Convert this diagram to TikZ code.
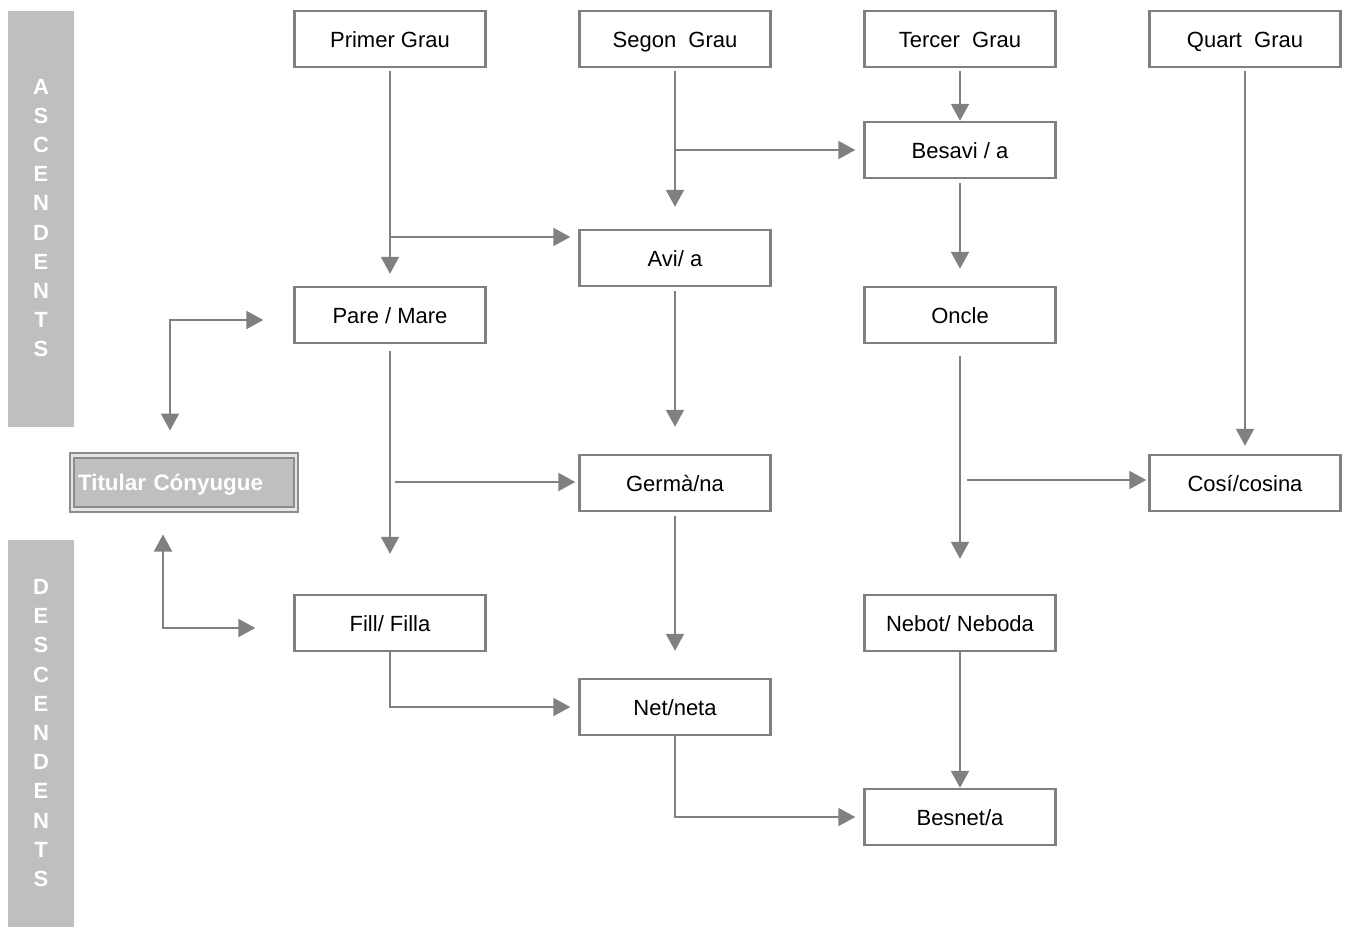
\documentclass[tikz,border=0pt]{standalone}
\usepackage{fontspec}
\setmainfont{Liberation Sans}
\usetikzlibrary{arrows.meta, positioning}

\begin{document}
\begin{tikzpicture}[x=0.5pt,y=-0.5pt,
 font=\fontsize{11}{13}\selectfont,
 grau/.style={rectangle,draw=black!50,line width=1.2pt,
   minimum width=95.5pt,minimum height=28pt,inner sep=0pt,
   text height=8pt,text depth=0pt},
 fletxa/.style={draw=black!50,line width=1pt,-{Triangle[length=8.5pt,width=9pt]}},
 doble/.style={fletxa,{Triangle[length=8.5pt,width=9pt]}-{Triangle[length=8.5pt,width=9pt]}},
 lletres/.style={text=white,font=\fontsize{11}{14.6}\selectfont\bfseries,align=center}]

  \useasboundingbox (0,0) rectangle (1345,927);

  % barres laterals
  \fill[black!25] (8,11) rectangle (74,427);
  \fill[black!25] (8,540) rectangle (74,927);
  \node[lletres] (asc) at (41,218) {A\\S\\C\\E\\N\\D\\E\\N\\T\\S};
  \node[lletres] (desc) at (41,733) {D\\E\\S\\C\\E\\N\\D\\E\\N\\T\\S};

  \node[grau] (primer) at (390,39) {Primer Grau};
  \node[grau] (segon) at (675,39) {Segon\ \ Grau};
  \node[grau] (tercer) at (960,39) {Tercer\ \ Grau};
  \node[grau] (quart) at (1245,39) {Quart\ \ Grau};
  \node[grau] (besavi) at (960,150) {Besavi / a};
  \node[grau] (avi) at (675,258) {Avi/ a};
  \node[grau] (pare) at (390,315) {Pare / Mare};
  \node[grau] (oncle) at (960,315) {Oncle};
  \node[grau] (germa) at (675,483) {Germà/na};
  \node[grau] (cosi) at (1245,483) {Cosí/cosina};
  \node[grau] (fill) at (390,623) {Fill/ Filla};
  \node[grau] (nebot) at (960,623) {Nebot/ Neboda};
  \node[grau] (net) at (675,707) {Net/neta};
  \node[grau] (besnet) at (960,817) {Besnet/a};

  \node[draw=black!45,line width=1pt,double=black!10,double distance=1.2pt,
    fill=black!25,text=white,font=\fontsize{11.2}{13}\selectfont\bfseries,
    text width=106pt,inner xsep=3pt,minimum height=27pt,align=left,
    text height=8pt,text depth=0pt]
    (titular) at (184,482.5) {Titular Cónyugue};

  \foreach \s/\t/\a/\b in {primer/pare/1.5pt/6pt, segon/avi/1.5pt/11pt,
      tercer/besavi/1.5pt/0pt, besavi/oncle/2pt/8.5pt, quart/cosi/1.5pt/4pt,
      avi/germa/2pt/13.5pt, pare/fill/3.5pt/20pt, oncle/nebot/6pt/17.5pt,
      germa/net/2pt/13.5pt, nebot/besnet/0pt/0pt} {
   \path[fletxa, shorten <=\a, shorten >=\b] (\s) -- (\t);}

  \coordinate (b1) at (390,237);
  \coordinate (b2) at (675,150);
  \coordinate (b3) at (395,482);
  \coordinate (b4) at (967,480);
  \draw[fletxa, shorten >=4pt] (b1) -- (b1 -| avi.west);
  \draw[fletxa, shorten >=4pt] (b2) -- (besavi.west);
  \draw[fletxa, shorten >=1.5pt] (b3) -- (b3 -| germa.west);
  \draw[fletxa, shorten >=1pt] (b4) -- (b4 -| cosi.west);
  \draw[fletxa, shorten >=4pt] (fill.south) |- (net.west);
  \draw[fletxa, shorten >=4pt] (net.south) |- (besnet.west);

  \coordinate (t1) at (170,320);
  \coordinate (t2) at (163,628);
  \draw[doble, shorten <=12pt, shorten >=15pt] (t1 |- titular.north) -- (t1) -- (t1 -| pare.west);
  \draw[doble, shorten <=12pt, shorten >=19pt] (t2 |- titular.south) -- (t2) -- (t2 -| fill.west);

\end{tikzpicture}
\end{document}
